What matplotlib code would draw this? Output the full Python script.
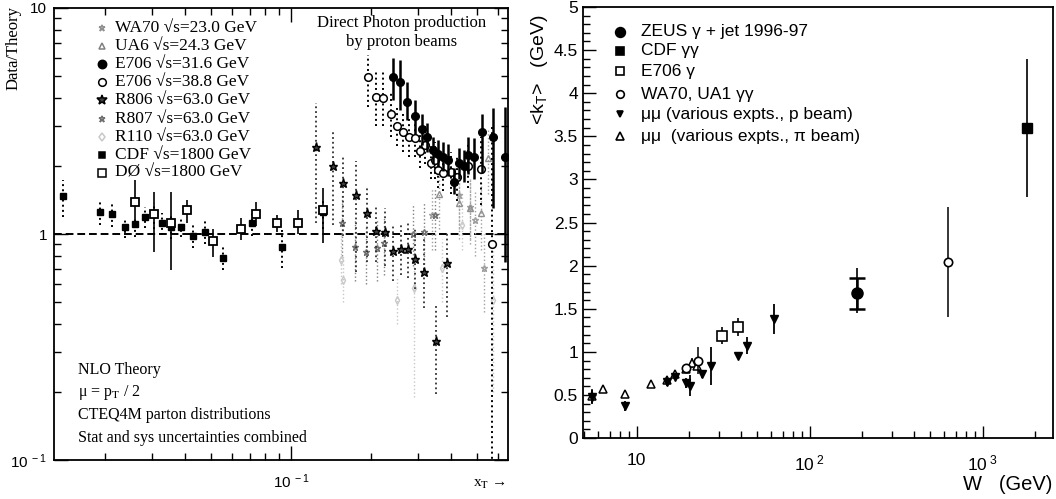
import numpy as np
import matplotlib
matplotlib.use("Agg")
import matplotlib.pyplot as plt
from matplotlib.ticker import LogLocator, NullFormatter, MultipleLocator, FixedLocator

plt.rcParams['mathtext.fontset'] = 'custom'
plt.rcParams['mathtext.rm'] = 'Liberation Sans'
plt.rcParams['mathtext.it'] = 'Liberation Sans:italic'
plt.rcParams['mathtext.bf'] = 'Liberation Sans:bold'
plt.rcParams['font.family'] = ['Liberation Sans', 'DejaVu Sans']

SERIF = ['Liberation Serif', 'DejaVu Serif']
SANS = ['Liberation Sans', 'DejaVu Sans']

# ---------------- left panel data: x_T, Data/Theory, lower, upper ----------------
cdf_x = [0.0138, 0.0190, 0.0212, 0.0236, 0.0259, 0.0282, 0.0305, 0.0327, 0.0354, 0.0386,
         0.0428, 0.0475, 0.0555, 0.0713, 0.0925, 0.132]
cdf_y = [1.47, 1.25, 1.23, 1.07, 1.11, 1.19, 1.23, 1.12, 1.07, 1.07, 0.98, 1.02, 0.78, 1.12, 0.875, 1.25]
cdf_lo = [1.19, 1.10, 1.07, 0.96, 0.97, 1.06, 1.05, 0.99, 0.95, 0.97, 0.87, 0.90, 0.69, 0.98, 0.71, 1.05]
cdf_hi = [1.73, 1.39, 1.37, 1.18, 1.19, 1.32, 1.37, 1.24, 1.20, 1.18, 1.10, 1.15, 0.89, 1.28, 1.04, 1.45]

d0_x = [0.0259, 0.0305, 0.0354, 0.0406, 0.0509, 0.0649, 0.0738, 0.0886, 0.106, 0.132]
d0_y = [1.39, 1.23, 1.12, 1.28, 0.93, 1.05, 1.23, 1.12, 1.12, 1.28]
d0_lo = [1.10, 0.83, 0.69, 1.12, 0.79, 0.94, 1.08, 1.02, 1.00, 0.91]
d0_hi = [1.73, 1.53, 1.53, 1.42, 1.05, 1.18, 1.39, 1.22, 1.28, 1.60]

e31_x = [0.2416, 0.257, 0.273, 0.292, 0.311, 0.324, 0.342, 0.357, 0.372, 0.390, 0.410,
         0.428, 0.447, 0.464, 0.487, 0.521, 0.574, 0.637]
e31_y = [4.95, 4.71, 3.84, 3.33, 2.91, 2.69, 2.35, 2.26, 2.19, 2.13, 1.70, 2.06, 2.00, 2.24, 2.19, 2.83, 2.69, 2.19]
e31_lo = [3.92, 3.54, 3.19, 2.78, 2.48, 2.30, 2.05, 1.97, 1.90, 1.80, 1.50, 1.75, 1.70, 1.85, 1.75, 1.86, 1.30, 0.75]
e31_hi = [6.00, 5.90, 4.70, 3.92, 3.40, 3.10, 2.70, 2.60, 2.55, 2.50, 1.95, 2.40, 2.35, 2.70, 2.65, 3.40, 3.60, 3.65]

e38_x = [0.1945, 0.209, 0.2216, 0.2375, 0.2502, 0.2636, 0.278, 0.292, 0.306, 0.319, 0.336,
         0.347, 0.357, 0.372, 0.40, 0.42, 0.464, 0.517, 0.57]
e38_y = [4.95, 4.04, 4.0, 3.40, 3.01, 2.83, 2.69, 2.66, 2.33, 2.48, 2.06, 2.13, 1.92, 1.86, 1.88, 1.79, 2.0, 1.94, 0.90]
e38_lo = [3.65, 3.0, 3.0, 2.7, 2.45, 2.3, 2.2, 2.2, 1.95, 2.05, 1.75, 1.75, 1.6, 1.55, 1.5, 1.4, 1.6, 1.35, 0.05]
e38_hi = [6.2, 5.3, 5.2, 4.3, 3.7, 3.4, 3.25, 3.2, 2.8, 3.0, 2.45, 2.55, 2.3, 2.25, 2.3, 2.2, 2.5, 2.7, 3.0]

r806_x = [0.124, 0.144, 0.157, 0.1755, 0.193, 0.209, 0.2255, 0.242, 0.258, 0.275, 0.292, 0.316, 0.351, 0.386]
r806_y = [2.43, 2.0, 1.68, 1.49, 1.24, 1.03, 1.02, 0.84, 0.86, 0.86, 0.775, 0.68, 0.336, 0.745]
r806_lo = [1.12, 1.10, 0.98, 0.68, 0.75, 0.75, 0.72, 0.62, 0.66, 0.64, 0.57, 0.47, 0.197, 0.43]
r806_hi = [3.8, 2.9, 2.2, 2.1, 1.6, 1.35, 1.3, 1.10, 1.1, 1.12, 1.05, 0.95, 0.485, 1.02]

r807_x = [0.155, 0.174, 0.191, 0.21, 0.223, 0.287, 0.316, 0.348]
r807_y = [1.12, 0.875, 0.83, 0.87, 0.91, 1.0, 1.02, 1.21]
r807_lo = [0.80, 0.62, 0.60, 0.62, 0.66, 0.72, 0.74, 0.85]
r807_hi = [1.50, 1.15, 1.10, 1.15, 1.20, 1.35, 1.38, 1.60]

r110_x = [0.154, 0.157, 0.25, 0.29, 0.37, 0.44, 0.575]
r110_y = [0.77, 0.625, 0.51, 0.58, 0.71, 1.1, 0.51]
r110_lo = [0.6, 0.5, 0.4, 0.19, 0.5, 0.85, 0.2]
r110_hi = [1.0, 0.8, 0.65, 0.95, 0.95, 1.5, 0.9]

ua6_x = [0.36, 0.43, 0.47, 0.52, 0.55]
ua6_y = [1.5, 1.37, 1.3, 1.24, 2.17]
ua6_lo = [1.05, 0.95, 0.90, 0.85, 1.5]
ua6_hi = [2.0, 1.85, 1.75, 1.70, 2.9]

wa70_x = [0.34, 0.43, 0.47, 0.49, 0.53]
wa70_y = [1.21, 1.49, 1.32, 1.15, 0.71]
wa70_lo = [0.85, 1.05, 0.95, 0.80, 0.45]
wa70_hi = [1.60, 2.00, 1.75, 1.55, 1.00]

# ---------------- right panel data: W (GeV), <kT> (GeV), error ----------------
mup_w = [5.5, 8.6, 15.1, 16.8, 19.2, 20.5, 23.8, 27.0, 38.8, 43.8, 62]
mup_k = [0.48, 0.37, 0.65, 0.71, 0.64, 0.61, 0.74, 0.84, 0.95, 1.07, 1.38]
mup_e = [0.08, 0.06, 0.04, 0.04, 0.06, 0.12, 0.04, 0.22, 0.0, 0.10, 0.17]

mupi_w = [5.5, 6.4, 8.6, 12.2, 15.1, 16.8, 19.2, 20.8, 22.5]
mupi_k = [0.49, 0.57, 0.51, 0.63, 0.67, 0.74, 0.80, 0.87, 0.84]
mupi_e = [0.08, 0.04, 0.04, 0.03, 0.04, 0.04, 0.05, 0.06, 0.05]

e706_w = [31.4, 38.8]
e706_k = [1.19, 1.29]
e706_e = [0.10, 0.10]

wa70_w = [19.2, 22.8, 630]
wa70_k = [0.81, 0.90, 2.04]
wa70_e = [0.05, 0.16, 0.64]

zeus_w = [189]
zeus_k = [1.68]
zeus_stat = [0.18]
zeus_lo = [0.23]
zeus_hi = [0.29]

cdfk_w = [1820]
cdfk_k = [3.60]
cdfk_e = [0.80]


def logbar(ax, x, y, lo, hi, style, **kw):
    y = np.array(y)
    err = [y - np.array(lo), np.array(hi) - y]
    eb = ax.errorbar(x, y, yerr=err, fmt='none', ecolor=kw.get('ecolor', 'k'),
                     elinewidth=kw.get('elw', 1.2), capsize=0, zorder=kw.get('z', 2))
    eb[2][0].set_linestyle(style)
    ax.plot(x, y, linestyle='none', marker=kw['marker'], ms=kw.get('ms', 5),
            mfc=kw.get('mfc', 'k'), mec=kw.get('mec', 'k'), mew=kw.get('mew', 1.0),
            zorder=kw.get('z', 2) + 1)


fig = plt.figure(figsize=(10.56, 4.99), dpi=100)
ax1 = fig.add_axes([0.0511, 0.078, 0.430, 0.906])
ax2 = fig.add_axes([0.552, 0.122, 0.445, 0.864])

# ---------------- left panel ----------------
ax1.set_xscale('log')
ax1.set_yscale('log')

ax1.axhline(1.0, color='k', ls=(0, (4, 2)), lw=1.4, zorder=1)

logbar(ax1, r110_x, r110_y, r110_lo, r110_hi, ':', marker='d', ms=4, mfc='none', mec='#c8c8c8', ecolor='#c8c8c8', elw=1.0, z=1)
logbar(ax1, wa70_x, wa70_y, wa70_lo, wa70_hi, ':', marker='*', ms=5, mfc='none', mec='#a0a0a0', ecolor='#a0a0a0', elw=1.0, z=1)
logbar(ax1, ua6_x, ua6_y, ua6_lo, ua6_hi, ':', marker='^', ms=4, mfc='none', mec='#909090', ecolor='#a0a0a0', elw=1.0, z=1)
logbar(ax1, r807_x, r807_y, r807_lo, r807_hi, ':', marker='*', ms=5, mfc='none', mec='#707070', ecolor='#808080', elw=1.0, z=1)
logbar(ax1, r806_x, r806_y, r806_lo, r806_hi, ':', marker='*', ms=6.5, mfc='#404040', mec='k', ecolor='#303030', elw=1.3)
logbar(ax1, cdf_x, cdf_y, cdf_lo, cdf_hi, ':', marker='s', ms=5, mfc='k', mec='k', elw=1.4)
logbar(ax1, d0_x, d0_y, d0_lo, d0_hi, '-', marker='s', ms=6, mfc='white', mec='k', mew=1.3, elw=1.2, z=4)
logbar(ax1, e38_x, e38_y, e38_lo, e38_hi, ':', marker='o', ms=5.5, mfc='white', mec='k', mew=1.1, elw=1.4, z=4)
logbar(ax1, e31_x, e31_y, e31_lo, e31_hi, '-', marker='o', ms=5.5, mfc='k', mec='k', elw=1.8, z=5)

ax1.set_xlim(0.0128, 0.655)
ax1.set_ylim(0.1, 10)

ax1.tick_params(which='both', direction='in', top=True, right=True, width=1.0)
ax1.tick_params(which='major', length=10, labelsize=11, pad=5)
ax1.tick_params(which='minor', length=5)
ax1.tick_params(axis='x', which='major', pad=9)
ax1.xaxis.set_major_locator(FixedLocator([0.1]))
ax1.set_xticklabels(['$10^{\\ -1}$'], fontsize=11)
ax1.xaxis.set_minor_locator(LogLocator(base=10, subs=np.arange(2, 10)))
ax1.xaxis.set_minor_formatter(NullFormatter())
ax1.yaxis.set_major_locator(FixedLocator([0.1, 1, 10]))
ax1.set_yticklabels(['$10^{\\ -1}$', '1', '10'], fontsize=11)
ax1.yaxis.set_minor_locator(LogLocator(base=10, subs=np.arange(2, 10)))
ax1.yaxis.set_minor_formatter(NullFormatter())
for s in ax1.spines.values():
    s.set_linewidth(1.3)

fig.text(14 / 1056, 1 - 48 / 499, 'Data/Theory', rotation=90, ha='center', va='center',
         family=SERIF, fontsize=12)
fig.text(490 / 1056, 1 - 484 / 499, 'x$_\\mathrm{T}$ \u2192', ha='center', va='center',
         family=SERIF, fontsize=11, math_fontfamily='stix')

ax1.text(0.765, 0.985, 'Direct Photon production\nby proton beams', transform=ax1.transAxes,
         ha='center', va='top', family=SERIF, fontsize=12, linespacing=1.25)

leg_labels = ['WA70 \u221as=23.0 GeV', 'UA6 \u221as=24.3 GeV', 'E706 \u221as=31.6 GeV',
              'E706 \u221as=38.8 GeV', 'R806 \u221as=63.0 GeV', 'R807 \u221as=63.0 GeV',
              'R110 \u221as=63.0 GeV', 'CDF \u221as=1800 GeV', 'D\u00d8 \u221as=1800 GeV']
leg_markers = ['*', '^', 'o', 'o', '*', '*', 'd', 's', 's']
leg_fc = ['none', 'none', 'k', 'white', '#404040', 'none', 'none', 'k', 'white']
leg_ec = ['#909090', '#808080', 'k', 'k', 'k', '#707070', '#c8c8c8', 'k', 'k']
leg_ms = [5, 4.5, 6, 5.5, 7, 5, 4.5, 5, 6]
for i, lab in enumerate(leg_labels):
    yf = 1 - (28 + 18.1 * i - 8) / 452
    ax1.plot([0.105], [yf], transform=ax1.transAxes, marker=leg_markers[i], ms=leg_ms[i],
             mfc=leg_fc[i], mec=leg_ec[i], mew=1.1, clip_on=False)
    ax1.text(0.134, yf, lab, transform=ax1.transAxes, ha='left', va='center',
             family=SERIF, fontsize=12.5)

notes = ['NLO Theory', '\u03bc = p$_\\mathrm{T}$ / 2', 'CTEQ4M parton distributions',
         'Stat and sys uncertainties combined']
for i, t in enumerate(notes):
    ax1.text(0.052, (460 - (370 + 22.7 * i)) / 452, t, transform=ax1.transAxes, ha='left',
             va='center', family=SERIF, fontsize=11.5, math_fontfamily='stix')

# ---------------- right panel ----------------
ax2.set_xscale('log')

ax2.errorbar(mupi_w, mupi_k, yerr=mupi_e, fmt='^', ms=6, mfc='white', mec='k', mew=1.1,
             ecolor='k', elinewidth=1.1, capsize=0, zorder=3)
ax2.errorbar(mup_w, mup_k, yerr=mup_e, fmt='v', ms=6, mfc='k', mec='k',
             ecolor='k', elinewidth=1.3, capsize=0, zorder=4)
ax2.errorbar(e706_w, e706_k, yerr=e706_e, fmt='s', ms=7, mfc='white', mec='k', mew=1.2,
             ecolor='k', elinewidth=1.2, capsize=0, zorder=4)
ax2.errorbar(wa70_w, wa70_k, yerr=wa70_e, fmt='o', ms=6, mfc='white', mec='k', mew=1.2,
             ecolor='k', elinewidth=1.1, capsize=0, zorder=4)
ax2.errorbar(zeus_w, zeus_k, yerr=[zeus_lo, zeus_hi], fmt='none', ecolor='k',
             elinewidth=1.2, capsize=0, zorder=4)
ax2.errorbar(zeus_w, zeus_k, yerr=zeus_stat, fmt='o', ms=8, mfc='k', mec='k',
             ecolor='k', elinewidth=1.8, capsize=6, capthick=1.8, zorder=5)
ax2.errorbar(cdfk_w, cdfk_k, yerr=cdfk_e, fmt='s', ms=7, mfc='k', mec='k',
             ecolor='k', elinewidth=1.2, capsize=0, zorder=4)

ax2.set_xlim(4.9, 2550)
ax2.set_ylim(0, 5)

ax2.tick_params(which='both', direction='in', width=1.0)
ax2.tick_params(which='major', length=9, labelsize=12.5)
ax2.tick_params(axis='x', which='major', pad=11)
ax2.tick_params(which='minor', length=5)
ax2.yaxis.set_major_locator(FixedLocator(np.arange(0, 5.01, 0.5)))
ax2.yaxis.set_minor_locator(MultipleLocator(0.1))
ax2.set_yticklabels(['0', '0.5', '1', '1.5', '2', '2.5', '3', '3.5', '4', '4.5', '5'])
ax2.xaxis.set_major_locator(FixedLocator([10, 100, 1000]))
ax2.set_xticklabels(['10', '$10^{\\ 2}$', '$10^{\\ 3}$'])
ax2.xaxis.set_minor_locator(LogLocator(base=10, subs=np.arange(2, 10)))
ax2.xaxis.set_minor_formatter(NullFormatter())
for s in ax2.spines.values():
    s.set_linewidth(1.3)

fig.text(540 / 1056, 1 - 70 / 499, '<k$_\\mathrm{T}$>   (GeV)', rotation=90, ha='center',
         va='center', family=SANS, fontsize=14)
fig.text(1052 / 1056, 1 - 484 / 499, 'W   (GeV)', ha='right', va='center', family=SANS,
         fontsize=14.5)

r_labels = ['ZEUS \u03b3 + jet 1996-97', 'CDF \u03b3\u03b3', 'E706 \u03b3', 'WA70, UA1 \u03b3\u03b3',
            '\u03bc\u03bc (various expts., p beam)', '\u03bc\u03bc  (various expts., \u03c0 beam)']
r_markers = ['o', 's', 's', 'o', 'v', '^']
r_fc = ['k', 'k', 'white', 'white', 'k', 'white']
r_ms = [7, 6, 6, 5.5, 5, 5.5]
r_rows = [32, 51, 71, 94, 114, 136]
for i, lab in enumerate(r_labels):
    yf = (438 - r_rows[i]) / 431
    ax2.plot([(620 - 583) / 470], [yf], transform=ax2.transAxes, marker=r_markers[i],
             ms=r_ms[i], mfc=r_fc[i], mec='k', mew=1.2, clip_on=False)
    ax2.text((641 - 583) / 470, yf, lab, transform=ax2.transAxes, ha='left', va='center',
             family=SANS, fontsize=12.5)

fig.savefig('out.png', dpi=100)
